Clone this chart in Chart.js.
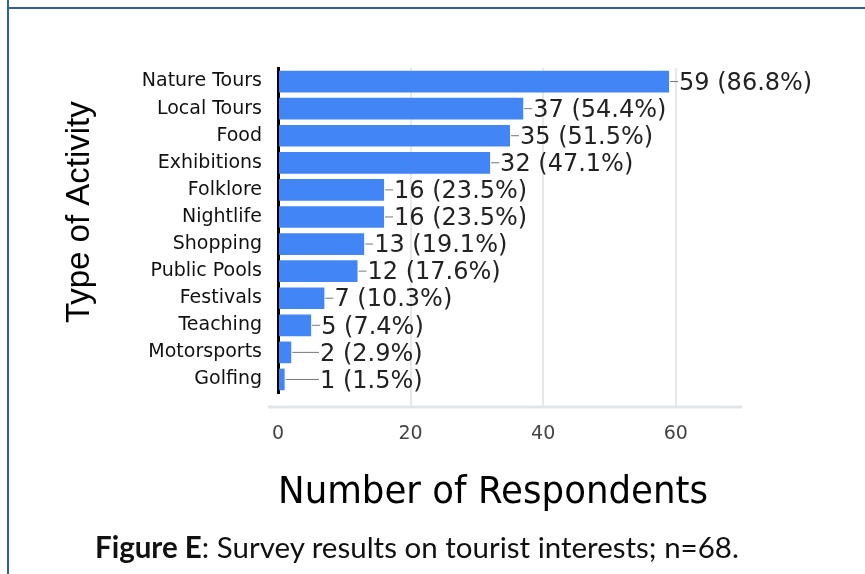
<!DOCTYPE html>
<html>
<head>
<meta charset="utf-8">
<script src="https://cdn.jsdelivr.net/npm/chart.js@4"></script>
<style>
  body { margin: 0; background: #fff; }
  #wrap { position: relative; width: 865px; height: 574px; overflow: hidden; }
  #chart { position: absolute; left: 0; top: 0; }
  .frame-left { position: absolute; left: 7px; top: 0; width: 2px; height: 574px; background: #2f5f9f; }
  .frame-top { position: absolute; left: 7px; top: 7px; width: 858px; height: 2px; background: #2f5f9f; }
  .caption { position: absolute; left: 95px; top: 529px; font-family: Lato, 'Open Sans', sans-serif; font-size: 29.5px; line-height: 36px; color: #111; white-space: nowrap; }
</style>
</head>
<body>
<div id="wrap">
  <canvas id="chart" width="865" height="574"></canvas>
  <div class="frame-left"></div>
  <div class="frame-top"></div>
  <div class="caption"><b>Figure E</b>: Survey results on tourist interests; n=68.</div>
</div>
<script>
/* global Chart */

const activities = ['Nature Tours', 'Local Tours', 'Food', 'Exhibitions', 'Folklore', 'Nightlife',
  'Shopping', 'Public Pools', 'Festivals', 'Teaching', 'Motorsports', 'Golfing'];
const respondents = [59, 37, 35, 32, 16, 16, 13, 12, 7, 5, 2, 1];
const percents = ['86.8', '54.4', '51.5', '47.1', '23.5', '23.5', '19.1', '17.6', '10.3', '7.4', '2.9', '1.5'];
const xTicks = [0, 20, 40, 60];

// etiquettes "n (x%)" au bout des barres, avec un petit trait
const barLabels = {
  id: 'barLabels',
  afterDatasetsDraw(chart) {
    const { ctx, chartArea } = chart;
    const bars = chart.getDatasetMeta(0).data;
    ctx.save();
    ctx.font = '24px "DejaVu Sans"';
    ctx.textBaseline = 'middle';
    bars.forEach((bar, i) => {
      const textX = Math.max(bar.x + 10, chartArea.left + 42);
      ctx.strokeStyle = '#777';
      ctx.lineWidth = 1;
      ctx.beginPath();
      ctx.moveTo(bar.x + 1, bar.y);
      ctx.lineTo(textX - 1, bar.y);
      ctx.stroke();
      ctx.fillStyle = '#222';
      ctx.fillText(`${respondents[i]} (${percents[i]}%)`, textX, bar.y + 2);
    });
    ctx.restore();
  },
};

// ligne grise sous l'axe des x
const baseLine = {
  id: 'baseLine',
  beforeDatasetsDraw(chart) {
    const { ctx, chartArea } = chart;
    const y = chartArea.bottom + 14;
    ctx.save();
    ctx.strokeStyle = '#e2e5e8';
    ctx.lineWidth = 3;
    ctx.beginPath();
    ctx.moveTo(chartArea.left - 10, y);
    ctx.lineTo(chartArea.right, y);
    ctx.stroke();
    ctx.restore();
  },
};

const ctx = document.getElementById('chart');
const myChart = new Chart(ctx, {
  type: 'bar',
  data: {
    labels: activities,
    datasets: [
      {
        data: respondents,
        backgroundColor: '#4285f4',
        categoryPercentage: 1,
        barPercentage: 0.8,
      },
    ],
  },
  options: {
    indexAxis: 'y',
    responsive: false,
    animation: false,
    layout: {
      padding: {
        left: 40, right: 123, top: 68, bottom: 40,
      },
    },
    plugins: {
      legend: { display: false },
      tooltip: { enabled: false },
    },
    scales: {
      x: {
        min: 0,
        max: 70,
        afterBuildTicks(scale) {
          scale.ticks = xTicks.map((v) => ({ value: v }));
        },
        afterFit(scale) {
          scale.height = 574 - 393 - 40;
        },
        grid: {
          color: (c) => (c.tick && c.tick.value === 0 ? 'rgba(0,0,0,0)' : '#e6e8eb'),
          lineWidth: 2,
          drawTicks: true,
          tickLength: 14,
        },
        border: { display: false },
        ticks: {
          color: '#444',
          padding: 16,
          font: { family: 'DejaVu Sans', size: 19 },
        },
        title: {
          display: true,
          text: 'Number of Respondents   ',
          color: '#000',
          font: { family: 'DejaVu Sans', size: 37 },
          padding: { top: 0, bottom: 18 },
        },
      },
      y: {
        afterFit(scale) {
          scale.width = 238;
        },
        grid: { display: false },
        border: { color: '#000', width: 3 },
        ticks: {
          color: '#111',
          padding: 8,
          autoSkip: false,
          font: { family: 'DejaVu Sans', size: 19 },
        },
        title: {
          display: true,
          text: '    Type of Activity',
          color: '#000',
          font: { family: 'Liberation Sans', size: 33 },
          padding: { top: 20, bottom: 0 },
        },
      },
    },
  },
  plugins: [barLabels, baseLine],
});
</script>
</body>
</html>
